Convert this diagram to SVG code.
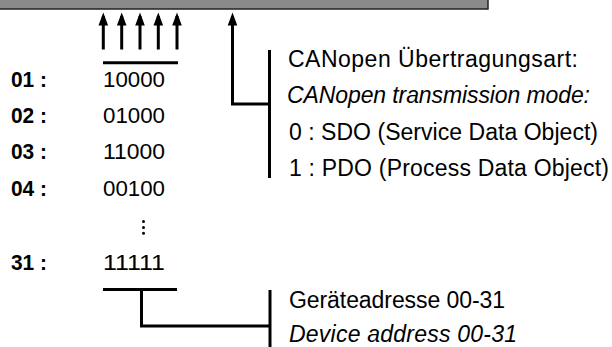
<svg xmlns="http://www.w3.org/2000/svg" width="612" height="347" viewBox="0 0 612 347">
<style>
text{font-family:"Liberation Sans",Arial,sans-serif;font-size:22px;fill:#000}
.r{font-size:23px}
.b{font-weight:bold}
.i{font-style:italic}
.ln{stroke:#000;stroke-width:3;fill:none}
</style>
<g id="bar">
<rect x="-2" y="-2" width="490" height="11" fill="#8a8a8a" stroke="#222" stroke-width="1.5"/>
</g>
<g id="connectors">
<path class="ln" d="M103.3,49.5 V16" />
<path class="ln" d="M121.7,49.5 V16" />
<path class="ln" d="M140,49.5 V16" />
<path class="ln" d="M158.3,49.5 V16" />
<path class="ln" d="M177,49.5 V16" />
<path d="M98.5,25.5 L103.3,12.5 L108.1,25.5 Z M116.9,25.5 L121.7,12.5 L126.5,25.5 Z M135.2,25.5 L140,12.5 L144.8,25.5 Z M153.5,25.5 L158.3,12.5 L163.1,25.5 Z M172.2,25.5 L177,12.5 L181.8,25.5 Z M227.7,25.5 L232.5,12.5 L237.3,25.5 Z" fill="#000"/>
<path class="ln" d="M103,62.7 H178" />
<path class="ln" d="M232.5,16 V104 H269.5" />
<path class="ln" d="M269.5,50 V178" />
<path class="ln" d="M103,289.5 H177" />
<path class="ln" d="M141.5,289.5 V326 H270" />
<path class="ln" d="M270,290 V347" />
</g>
<g id="codes">
<text class="b" x="11" y="86.5" textLength="36" lengthAdjust="spacingAndGlyphs">01 :</text>
<text class="b" x="11" y="122.5" textLength="36" lengthAdjust="spacingAndGlyphs">02 :</text>
<text class="b" x="11" y="159" textLength="36" lengthAdjust="spacingAndGlyphs">03 :</text>
<text class="b" x="11" y="196" textLength="36" lengthAdjust="spacingAndGlyphs">04 :</text>
<text class="b" x="11" y="270" textLength="36" lengthAdjust="spacingAndGlyphs">31 :</text>
<text x="103" y="86.5" textLength="62" lengthAdjust="spacingAndGlyphs">10000</text>
<text x="103" y="122.5" textLength="62" lengthAdjust="spacingAndGlyphs">01000</text>
<text x="103" y="159" textLength="62" lengthAdjust="spacingAndGlyphs">11000</text>
<text x="103" y="196" textLength="62" lengthAdjust="spacingAndGlyphs">00100</text>
<text x="103" y="270" textLength="62" lengthAdjust="spacingAndGlyphs">11111</text>
<circle cx="143.5" cy="221.5" r="1.5"/>
<circle cx="143.5" cy="227.5" r="1.5"/>
<circle cx="143.5" cy="233.3" r="1.5"/>
</g>
<g id="mode">
<text class="r" x="288" y="66.5" textLength="290" lengthAdjust="spacing">CANopen Übertragungsart:</text>
<text class="r i" x="287" y="103" textLength="303" lengthAdjust="spacing">CANopen transmission mode:</text>
<text class="r" x="289" y="139.5" textLength="309" lengthAdjust="spacing">0 : SDO (Service Data Object)</text>
<text class="r" x="289" y="176" textLength="320" lengthAdjust="spacing">1 : PDO (Process Data Object)</text>
</g>
<g id="address">
<text class="r" x="289" y="307.5" textLength="216" lengthAdjust="spacing">Geräteadresse 00-31</text>
<text class="r i" x="289" y="341.5" textLength="228" lengthAdjust="spacing">Device address 00-31</text>
</g>
</svg>
